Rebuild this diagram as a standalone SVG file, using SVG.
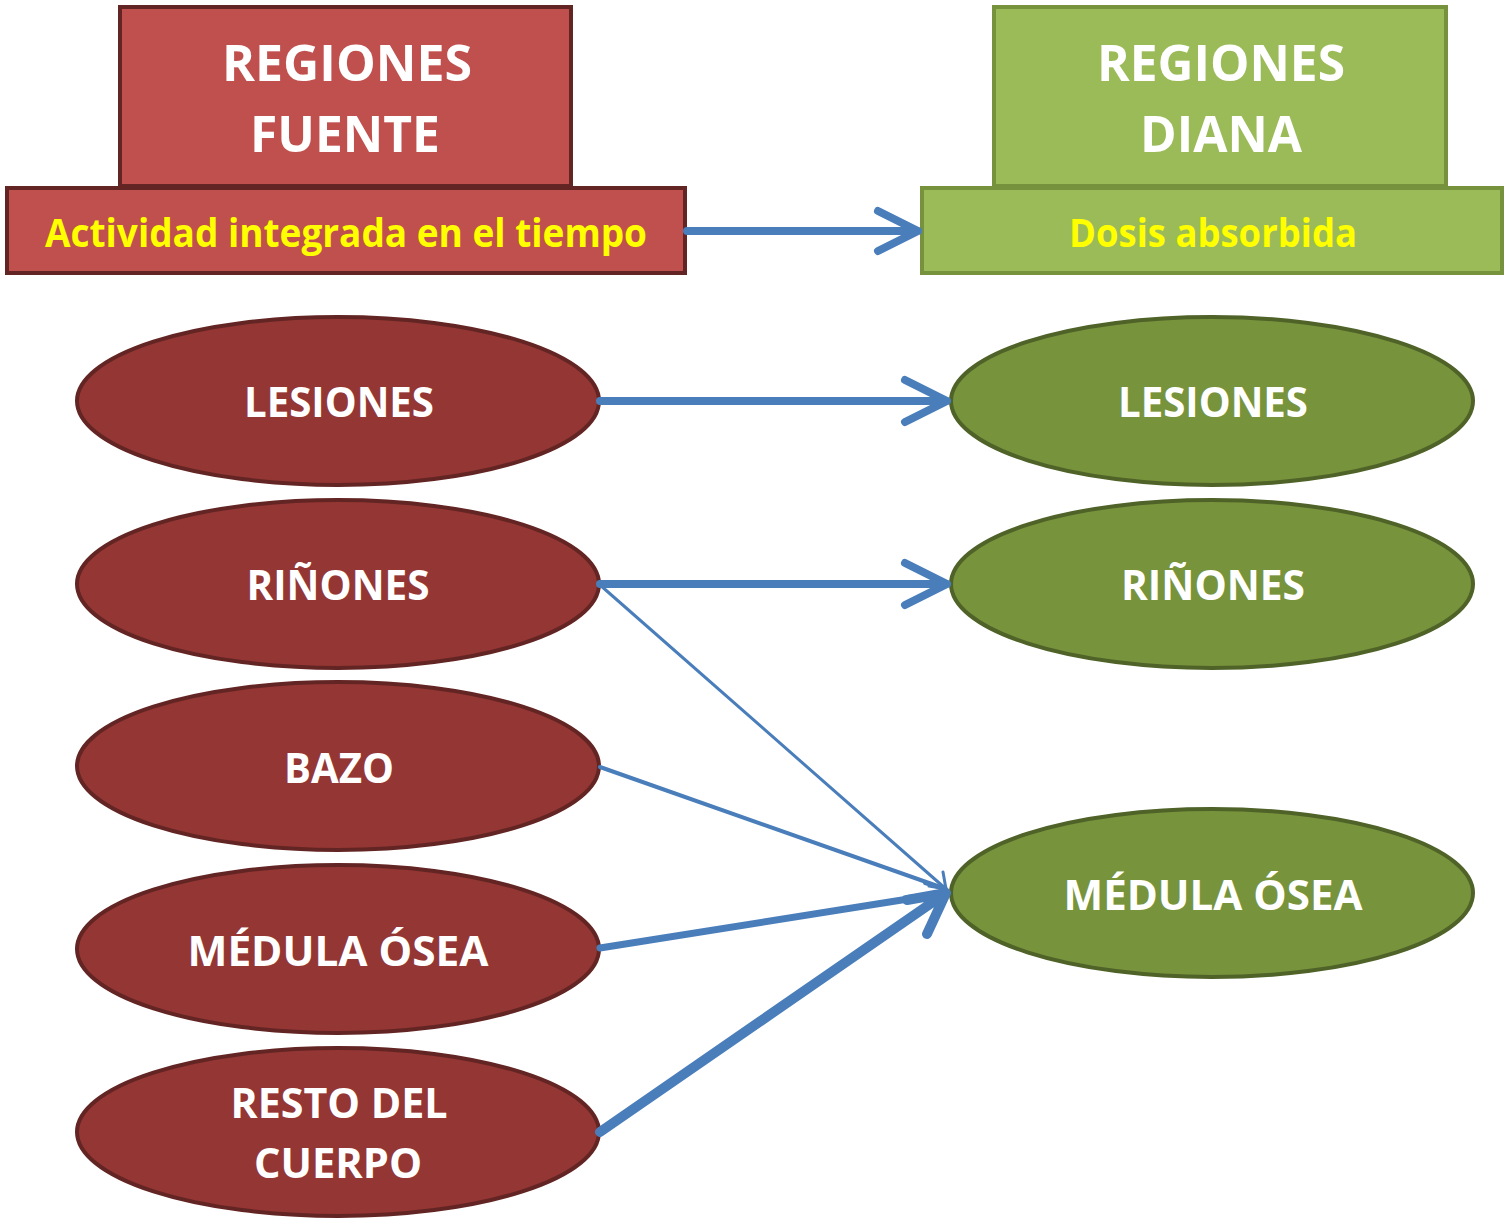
<svg xmlns="http://www.w3.org/2000/svg" width="1508" height="1223" viewBox="0 0 1508 1223">
<style>
.rbox{fill:#C0504D;stroke:#632523;stroke-width:4}
.gbox{fill:#9BBB59;stroke:#76923C;stroke-width:4}
.rell{fill:#943634;stroke:#632523;stroke-width:4}
.gell{fill:#77933C;stroke:#4F6228;stroke-width:4}
.t{font-family:"Open Sans","Liberation Sans",sans-serif;font-weight:bold;text-anchor:middle}
.w{fill:#FFFFFF}
.y{fill:#FFFF00}
.big{font-size:50px}
.mid{font-size:40px}
.lab{font-size:42px}
.c{stroke:#4A7EBB;fill:none;stroke-linecap:round;stroke-linejoin:round}
</style>
<rect width="1508" height="1223" fill="#FFFFFF"/>
<g id="fuente-header">
<rect class="rbox" x="120" y="7" width="451" height="179"/>
<rect class="rbox" x="7" y="188" width="678" height="85"/>
<text class="t w big" x="347" y="81" textLength="250" lengthAdjust="spacingAndGlyphs">REGIONES</text>
<text class="t w big" x="345" y="152" textLength="190" lengthAdjust="spacingAndGlyphs">FUENTE</text>
<text class="t y mid" x="346" y="247" textLength="602" lengthAdjust="spacingAndGlyphs">Actividad integrada en el tiempo</text>
</g>
<g id="diana-header">
<rect class="gbox" x="994" y="7" width="452" height="179"/>
<rect class="gbox" x="922" y="188" width="580" height="85"/>
<text class="t w big" x="1221" y="81" textLength="248" lengthAdjust="spacingAndGlyphs">REGIONES</text>
<text class="t w big" x="1221" y="152" textLength="162" lengthAdjust="spacingAndGlyphs">DIANA</text>
<text class="t y mid" x="1213" y="247" textLength="288" lengthAdjust="spacingAndGlyphs">Dosis absorbida</text>
</g>
<g id="src-lesiones">
<ellipse class="rell" cx="338" cy="401" rx="261" ry="84"/>
<text class="t w lab" x="339" y="417" textLength="190" lengthAdjust="spacingAndGlyphs">LESIONES</text>
</g>
<g id="src-rinones">
<ellipse class="rell" cx="338" cy="584" rx="261" ry="84"/>
<text class="t w lab" x="338" y="600" textLength="183" lengthAdjust="spacingAndGlyphs">RIÑONES</text>
</g>
<g id="src-bazo">
<ellipse class="rell" cx="338" cy="766" rx="261" ry="84"/>
<text class="t w lab" x="339" y="783" textLength="110" lengthAdjust="spacingAndGlyphs">BAZO</text>
</g>
<g id="src-medula">
<ellipse class="rell" cx="338" cy="949" rx="261" ry="84"/>
<text class="t w lab" x="338" y="966" textLength="301" lengthAdjust="spacingAndGlyphs">MÉDULA ÓSEA</text>
</g>
<g id="src-resto">
<ellipse class="rell" cx="338" cy="1132" rx="261" ry="84"/>
<text class="t w lab" x="339" y="1118" textLength="217" lengthAdjust="spacingAndGlyphs">RESTO DEL</text>
<text class="t w lab" x="338" y="1178" textLength="168" lengthAdjust="spacingAndGlyphs">CUERPO</text>
</g>
<g id="tgt-lesiones">
<ellipse class="gell" cx="1212" cy="401" rx="261" ry="84"/>
<text class="t w lab" x="1213" y="417" textLength="190" lengthAdjust="spacingAndGlyphs">LESIONES</text>
</g>
<g id="tgt-rinones">
<ellipse class="gell" cx="1212" cy="584" rx="261" ry="84"/>
<text class="t w lab" x="1213" y="600" textLength="184" lengthAdjust="spacingAndGlyphs">RIÑONES</text>
</g>
<g id="tgt-medula">
<ellipse class="gell" cx="1212" cy="893" rx="261" ry="84"/>
<text class="t w lab" x="1213" y="910" textLength="299" lengthAdjust="spacingAndGlyphs">MÉDULA ÓSEA</text>
</g>
<g id="connectors">
<path class="c" stroke-width="8" d="M687 231 H918 M878 211 L918 231 L878 251"/>
<path class="c" stroke-width="8" d="M600 401 H947 M905 380 L947 401 L905 422"/>
<path class="c" stroke-width="8" d="M600 584 H947 M905 563 L947 584 L905 605"/>
<path class="c" stroke-width="3" d="M600 585 L946 889 M943 872 L946 889 L929 886"/>
<path class="c" stroke-width="4" d="M600 767 L946 889 M925 883 L946 889"/>
<path class="c" stroke-width="7" d="M600 948 L946 893 M905 899 L946 893"/>
<path class="c" stroke-width="10" d="M600 1132 L946 893 M927 934 L946 893 L907 900"/>
</g>
</svg>
